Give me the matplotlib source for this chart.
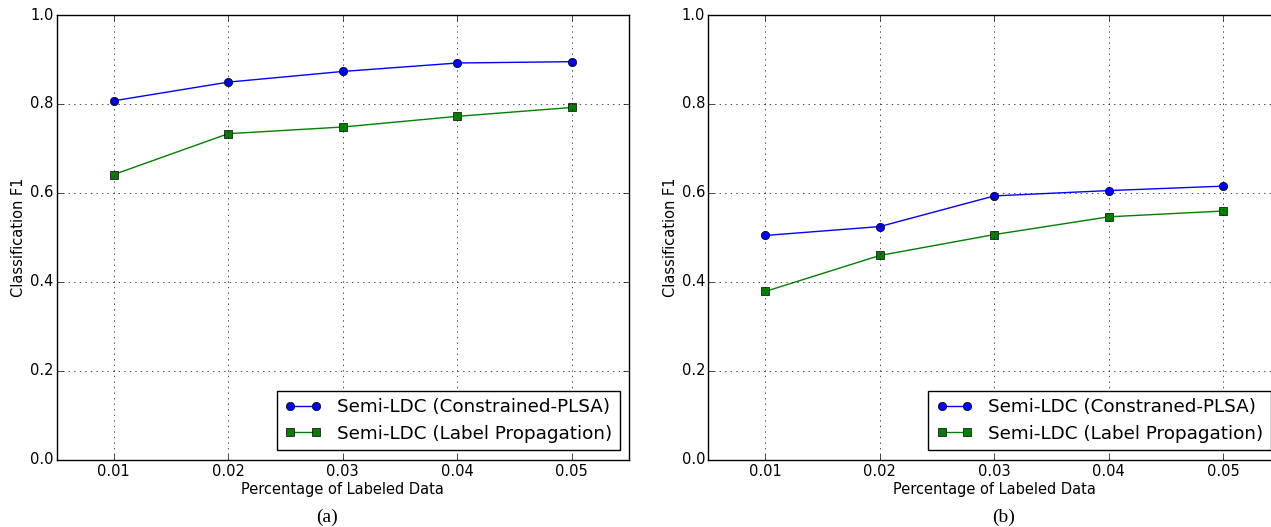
import matplotlib
matplotlib.use("Agg")
import matplotlib.pyplot as plt

# x positions (fraction of labeled data)
pct_labeled = [0.01, 0.02, 0.03, 0.04, 0.05]

# panel (a)
a_plsa = [0.807, 0.849, 0.873, 0.892, 0.895]
a_labelprop = [0.641, 0.733, 0.748, 0.772, 0.792]

# panel (b)
b_plsa = [0.504, 0.524, 0.593, 0.605, 0.615]
b_labelprop = [0.378, 0.459, 0.506, 0.546, 0.559]

panels = [
    ("(a)", a_plsa, a_labelprop, "Semi-LDC (Constrained-PLSA)"),
    ("(b)", b_plsa, b_labelprop, "Semi-LDC (Constraned-PLSA)"),
]

plt.style.use("classic")
plt.rcParams["font.family"] = "DejaVu Sans"

W, H = 1271, 527
fig = plt.figure(figsize=(W / 100, H / 100), dpi=100, facecolor="white")

# axes boxes in pixels: left, width (second panel runs past the right edge)
boxes = [(56.5, 572.5), (708.0, 572.5)]
top_px, bot_px = 15.0, 459.5
caption_x = [327, 1004]

for (caption, plsa, lp, plsa_label), (left_px, width_px), cx in zip(panels, boxes, caption_x):
    ax = fig.add_axes([left_px / W, 1 - bot_px / H, width_px / W, (bot_px - top_px) / H])
    ax.set_facecolor("white")
    ax.plot(pct_labeled, plsa, color="b", marker="o", markersize=6, linewidth=1,
            markeredgewidth=0.5, label=plsa_label)
    ax.plot(pct_labeled, lp, color="g", marker="s", markersize=6, linewidth=1,
            markeredgewidth=0.5, label="Semi-LDC (Label Propagation)")
    ax.set_xlim(0.005, 0.055)
    ax.set_ylim(0.0, 1.0)
    ax.set_xticks(pct_labeled)
    ax.set_xticklabels(["%.2f" % v for v in pct_labeled])
    ax.set_yticks([0.0, 0.2, 0.4, 0.6, 0.8, 1.0])
    ax.set_yticklabels(["%.1f" % v for v in [0.0, 0.2, 0.4, 0.6, 0.8, 1.0]])
    ax.tick_params(labelsize=10.5, direction="in", length=4)
    ax.tick_params(axis="x", pad=3)
    ax.tick_params(axis="y", pad=2)
    ax.grid(True, color="black", linestyle=":", linewidth=0.5)
    ax.set_xlabel("Percentage of Labeled Data", fontsize=10.5, labelpad=2.5)
    ax.set_ylabel("Classification F1", fontsize=10.5, labelpad=3)
    ax.legend(loc="lower right", numpoints=2, fontsize=13.2, frameon=True,
              fancybox=False, borderpad=0.42, handlelength=2.0,
              handletextpad=0.85, labelspacing=0.45, borderaxespad=0.5)
    fig.text(cx / W, 1 - 517 / H, caption, ha="center", va="center",
             fontsize=14, family="Liberation Serif")

fig.savefig("out.png", dpi=100, facecolor="white")
